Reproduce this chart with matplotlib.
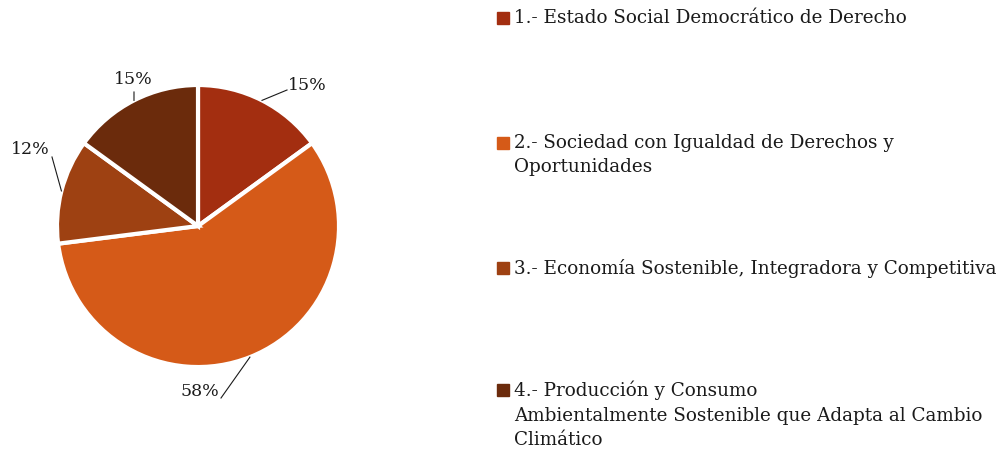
import numpy as np
import matplotlib.pyplot as plt

labels = [
    "1.- Estado Social Democrático de Derecho",
    "2.- Sociedad con Igualdad de Derechos y\nOportunidades",
    "3.- Economía Sostenible, Integradora y Competitiva",
    "4.- Producción y Consumo\nAmbientalmente Sostenible que Adapta al Cambio\nClimático",
]
shares = [15, 58, 12, 15]
colors = ["#A32E10", "#D55A18", "#9E4112", "#6B2B0C"]
explode = [0, 0.04, 0, 0]

W, H = 1004, 454
fig = plt.figure(figsize=(W / 100, H / 100), dpi=100)
ax = fig.add_axes([0, 0, 1, 1])

font = "DejaVu Serif"
cx, cy, r = 198, H - 226, 141

wedges, _ = ax.pie(shares, colors=colors, explode=explode, startangle=90,
                   counterclock=False, center=(cx, cy), radius=r,
                   wedgeprops=dict(edgecolor="white", linewidth=3),
                   frame=True)
ax.set_xlim(0, W)
ax.set_ylim(0, H)
ax.set_aspect("equal")
ax.axis("off")

# leader line end + text anchor for each slice
line_end = [(287, H - 90), (221, H - 398), (52, H - 157), (134, H - 92)]
text_at = [(288, H - 85, "left"), (219, H - 391, "right"),
           (50, H - 150, "right"), (133, H - 79, "center")]
for w, v, (ex, ey), (tx, ty, ha) in zip(wedges, shares, line_end, text_at):
    ang = np.deg2rad((w.theta1 + w.theta2) / 2)
    wx, wy = w.center
    px, py = wx + w.r * np.cos(ang), wy + w.r * np.sin(ang)
    ax.plot([px, ex], [py, ey], color="#1a1a1a", lw=0.8)
    ax.text(tx, ty, f"{v}%", ha=ha, va="center", fontsize=12.5,
            family=font, color="#1a1a1a")

# legend
leg_y = [18, 143, 268, 390]
for lab, col, y in zip(labels, colors, leg_y):
    ax.add_patch(plt.Rectangle((497, H - y - 6), 12, 12, color=col))
    ax.text(514, H - y + 9, lab, ha="left", va="top", fontsize=13.2,
            family=font, color="#1a1a1a", linespacing=1.45)

fig.savefig("out.png", dpi=100)
